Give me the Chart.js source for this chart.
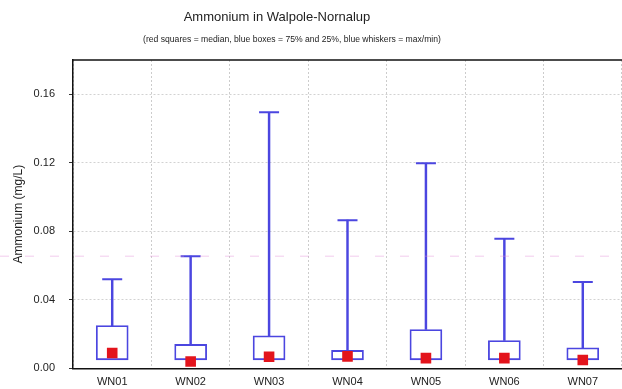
<!DOCTYPE html>
<html>
<head>
<meta charset="utf-8">
<script src="https://cdn.jsdelivr.net/npm/chart.js@4/dist/chart.umd.min.js"></script>
<style>
  body { margin: 0; background: #fff; }
  #wrap { width: 622px; height: 389px; }
</style>
</head>
<body>
<div id="wrap"><canvas id="ammonium" width="622" height="389"></canvas></div>
<script>
let sites = ['WN01', 'WN02', 'WN03', 'WN04', 'WN05', 'WN06', 'WN07']
let q1Vals = [0.005, 0.005, 0.005, 0.005, 0.005, 0.005, 0.005]
let q3Vals = [0.025, 0.014, 0.019, 0.0105, 0.0227, 0.0163, 0.012]
let medianVals = [0.009, 0.004, 0.0068, 0.007, 0.006, 0.006, 0.0049]
let maxVals = [0.052, 0.0655, 0.1495, 0.0865, 0.1197, 0.0757, 0.0505]
let yTicks = [0, 0.04, 0.08, 0.12, 0.16]

let blue = '#4b46e0'
let red = '#e3141c'
let font = 'Liberation Sans, Arial, Helvetica, sans-serif'

// title text sits left of centre in the original, so draw it by hand
let headerPlugin = {
    id: 'header',
    afterDraw(chart) {
        let ctx = chart.ctx
        ctx.save()
        ctx.fillStyle = '#222'
        ctx.textAlign = 'center'
        ctx.textBaseline = 'middle'
        ctx.font = '13px ' + font
        ctx.fillText('Ammonium in Walpole-Nornalup', 277, 17)
        ctx.font = '8.6px ' + font
        ctx.fillText('(red squares = median, blue boxes = 75% and 25%, blue whiskers = max/min)', 292, 40)
        // top frame line
        let a = chart.chartArea
        ctx.strokeStyle = '#111'
        ctx.lineWidth = 1.5
        ctx.beginPath()
        ctx.moveTo(a.left, a.top)
        ctx.lineTo(chart.width, a.top)
        ctx.stroke()
        // faint pink dashed scan line
        let y = chart.scales.y.getPixelForValue(0.0655)
        ctx.strokeStyle = 'rgba(225,140,215,0.45)'
        ctx.lineWidth = 1
        ctx.setLineDash([9, 16])
        ctx.beginPath()
        ctx.moveTo(0, y)
        ctx.lineTo(chart.width, y)
        ctx.stroke()
        ctx.restore()
    }
}

let ctx = document.getElementById('ammonium').getContext('2d')

let boxChart = new Chart(ctx, {
    type: 'bar',
    data: {
        labels: sites,
        datasets: [
            {
                type: 'line',
                data: medianVals,
                showLine: false,
                pointStyle: 'rect',
                pointRadius: 7.5,
                pointBackgroundColor: red,
                pointBorderColor: red,
                pointBorderWidth: 0,
                order: 0
            },
            {
                type: 'line',
                data: maxVals,
                showLine: false,
                pointStyle: 'line',
                pointRadius: 10,
                pointBorderColor: blue,
                pointBorderWidth: 2,
                order: 1
            },
            {
                data: sites.map((s, i) => [q1Vals[i], q3Vals[i]]),
                backgroundColor: '#fff',
                borderColor: blue,
                borderWidth: 1.8,
                borderSkipped: false,
                barThickness: 32,
                grouped: false,
                order: 2
            },
            {
                data: sites.map((s, i) => [q3Vals[i], maxVals[i]]),
                backgroundColor: blue,
                borderWidth: 0,
                barThickness: 1.8,
                grouped: false,
                order: 3
            }
        ]
    },
    options: {
        responsive: false,
        animation: false,
        events: [],
        layout: { autoPadding: false, padding: { top: 60, left: 0, right: 0, bottom: 0 } },
        plugins: {
            legend: { display: false },
            tooltip: { enabled: false }
        },
        scales: {
            x: {
                offset: true,
                grid: {
                    offset: true,
                    color: '#cccccc',
                    drawTicks: false
                },
                border: { color: '#111', width: 1.5, dash: [2, 2] },
                ticks: {
                    color: '#222',
                    padding: 7,
                    font: { family: font, size: 11 }
                },
                afterFit(scale) {
                    scale.height = 19
                    scale.paddingLeft = 0
                    scale.paddingRight = 0
                }
            },
            y: {
                min: 0,
                max: 0.18,
                afterBuildTicks(scale) {
                    scale.ticks = yTicks.map(v => ({ value: v }))
                },
                afterFit(scale) { scale.width = 73 },
                grid: {
                    color: '#d2d2d2',
                    tickColor: '#333',
                    tickLength: 4
                },
                border: { color: '#111', width: 1.5, dash: [2, 2] },
                ticks: {
                    color: '#222',
                    padding: 14,
                    font: { family: font, size: 11 },
                    callback: v => v.toFixed(2)
                },
                title: {
                    display: true,
                    text: 'Ammonium (mg/L)',
                    color: '#222',
                    padding: { top: 11, bottom: 0 },
                    font: { family: font, size: 12 }
                }
            }
        }
    },
    plugins: [headerPlugin]
})
</script>
</body>
</html>
